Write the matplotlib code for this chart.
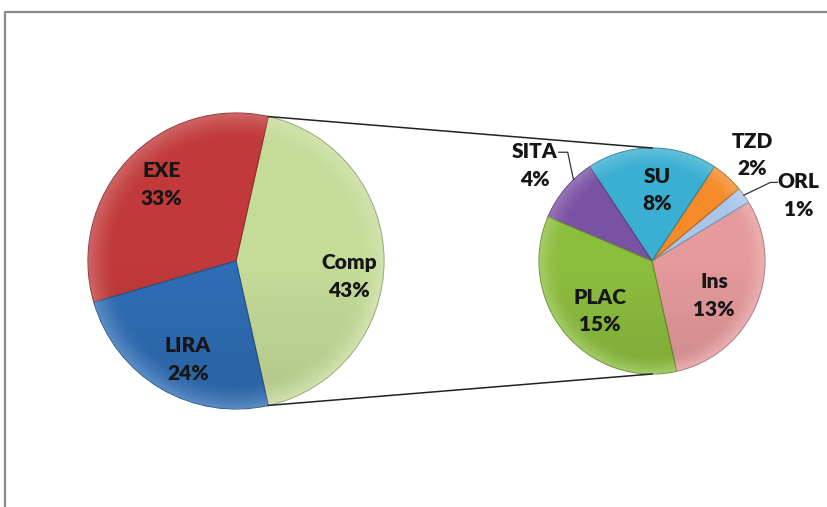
import numpy as np
import matplotlib
matplotlib.use("Agg")
import matplotlib.pyplot as plt
from matplotlib.patches import Circle

# main pie
main_labels = ["Comp", "EXE", "LIRA"]
main_values = [43, 33, 24]
main_colors = ["#C5DB98", "#C1393A", "#2F6DB5"]

# breakdown of "Comp"
sub_labels = ["Ins", "ORL", "TZD", "SU", "SITA", "PLAC"]
sub_values = [13, 1, 2, 8, 4, 15]
sub_colors = ["#E59A9C", "#A9C6EA", "#F58A28", "#3AAFD2", "#7A52A4", "#8CBE3E"]

W, H = 828, 507
C1, R1 = (236, 246), 148
C2, R2 = (652, 246), 113

# label placement: (fraction of radius, angle tweak in degrees)
main_pos = {"Comp": (0.77, -8), "EXE": (0.72, -2.5), "LIRA": (0.74, 4.5)}
sub_pos = {"Ins": (0.63, -6), "ORL": (1.42, -11.5), "TZD": (1.29, -1.5),
           "SU": (0.63, -4), "SITA": (1.34, 0.5), "PLAC": (0.64, 4)}

FONT = ["Lato", "DejaVu Sans"]
TXT = "#161616"


def darker(c, f=0.75):
    r, g, b = matplotlib.colors.to_rgb(c)
    return (r * f, g * f, b * f)


fig = plt.figure(figsize=(W / 100, H / 100), dpi=100)
ax = fig.add_axes([0, 0, 1, 1])

start = -180 * main_values[0] / sum(main_values)

w1, _ = ax.pie(main_values, colors=main_colors, startangle=start,
               center=C1, radius=R1, counterclock=True,
               wedgeprops=dict(linewidth=0.8))
w2, _ = ax.pie(sub_values, colors=sub_colors, startangle=start,
               center=C2, radius=R2, counterclock=True,
               wedgeprops=dict(linewidth=0.8))
for w, c in zip(w1, main_colors):
    w.set_edgecolor(darker(c))
for w, c in zip(w2, sub_colors):
    w.set_edgecolor(darker(c))


# soft bevel: light rim and a slightly darker lower half on each pie
def shade(center, radius):
    n = 300
    g = np.linspace(-1, 1, n)
    xx, yy = np.meshgrid(g, g)
    rr = np.hypot(xx, yy)
    rgba = np.zeros((n, n, 4))
    rim = np.clip((rr - 0.82) / 0.18, 0, 1) ** 1.5
    rgba[..., :3] = 1.0
    rgba[..., 3] = 0.22 * rim
    low = np.clip(-yy, 0, 1) * np.clip(1 - rim, 0, 1)
    dark = np.zeros((n, n, 4))
    dark[..., 3] = 0.10 * low
    ext = (center[0] - radius, center[0] + radius,
           center[1] - radius, center[1] + radius)
    clip = Circle(center, radius, transform=ax.transData)
    for img in (rgba, dark):
        im = ax.imshow(img, extent=ext, origin="lower", zorder=1.5,
                       interpolation="bilinear")
        im.set_clip_path(clip)


shade(C1, R1)
shade(C2, R2)

total = sum(main_values)


def put_label(wedge, name, value, center, radius, pos):
    frac, tweak = pos
    mid = np.deg2rad((wedge.theta1 + wedge.theta2) / 2 + tweak)
    x = center[0] + frac * radius * np.cos(mid)
    y = center[1] + frac * radius * np.sin(mid)
    ax.text(x, y, f"{name}\n{round(100 * value / total)}%", ha="center",
            va="center", ma="center", fontsize=15, fontweight="heavy",
            family=FONT, color=TXT, linespacing=1.55, zorder=5)
    return x, y


for w, n, v in zip(w1, main_labels, main_values):
    put_label(w, n, v, C1, R1, main_pos[n])
lab = {}
for w, n, v in zip(w2, sub_labels, sub_values):
    lab[n] = (w, put_label(w, n, v, C2, R2, sub_pos[n]))

# leader lines for the small outside labels
w, (lx, ly) = lab["SITA"]
a = np.deg2rad(134)
ex, ey = C2[0] + R2 * np.cos(a), C2[1] + R2 * np.sin(a)
ax.plot([lx + 24, lx + 33, ex], [ly + 13, ly + 13, ey], color="#333333", lw=0.9)

w, (lx, ly) = lab["ORL"]
a = np.deg2rad((w.theta1 + w.theta2) / 2)
ex, ey = C2[0] + R2 * np.cos(a), C2[1] + R2 * np.sin(a)
ax.plot([lx - 21, lx - 28, ex], [ly + 13, ly + 13, ey], color="#333333", lw=0.9)

# connector lines from the "Comp" edges to the top/bottom of the second pie
comp = w1[0]
for ang, yend in ((comp.theta2, C2[1] + R2), (comp.theta1, C2[1] - R2)):
    a = np.deg2rad(ang)
    ax.plot([C1[0] + R1 * np.cos(a), C2[0]],
            [C1[1] + R1 * np.sin(a), yend], color="#222222", lw=1.1)

# outer frame (cut off on the right and bottom)
ax.plot([5, 5, W], [0, H - 12, H - 12], color="#8a8a8a", lw=1.6)

ax.set_xlim(0, W)
ax.set_ylim(0, H)
ax.set_aspect("equal")
ax.axis("off")

fig.savefig("out.png", dpi=100)
